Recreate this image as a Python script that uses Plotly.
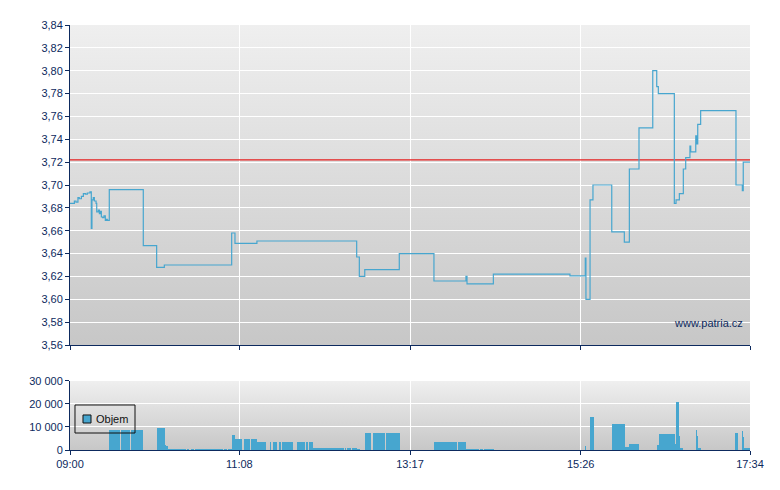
import base64
import plotly.graph_objects as go
from plotly.subplots import make_subplots

# ---- data (time = minutes after 09:00) ----
time_ticks = [0, 128, 257, 386, 514]
time_labels = ["09:00", "11:08", "13:17", "15:26", "17:34"]

price_time = [0, 3.3, 4.5, 6.0, 7.0, 8.6, 10.1, 11.6, 13.1, 15.1,
              16.1, 16.6, 17.6, 18.4, 19.7, 20.2, 21.4, 22.2, 22.9, 23.7,
              24.7, 25.7, 26.7, 27.5, 28.2, 29.7, 55.4, 65.5, 71.3, 122.2,
              124.7, 141.3, 216.7, 218.7, 222.8, 248.9, 275.1, 299.3, 300.1, 320.0,
              377.9, 389.5, 390.0, 393.1, 395.3, 409.5, 419.0, 422.8, 430.1, 440.5,
              443.5, 444.7, 456.8, 458.1, 460.6, 463.6, 465.4, 468.6, 469.2, 473.0,
              473.9, 474.5, 476.7, 503.4, 508.2, 508.9, 514]
price_value = [3.684, 3.686, 3.685, 3.689, 3.688, 3.690, 3.6925, 3.692, 3.693, 3.694,
               3.662, 3.687, 3.689, 3.686, 3.684, 3.6765, 3.678, 3.675, 3.677, 3.672,
               3.6715, 3.673, 3.669, 3.670, 3.669, 3.696, 3.647, 3.628, 3.630, 3.658,
               3.649, 3.651, 3.637, 3.620, 3.626, 3.640, 3.616, 3.620, 3.6135, 3.622,
               3.6205, 3.636, 3.600, 3.687, 3.700, 3.659, 3.650, 3.714, 3.750, 3.800,
               3.786, 3.780, 3.684, 3.687, 3.6925, 3.714, 3.724, 3.734, 3.729, 3.743,
               3.736, 3.753, 3.765, 3.700, 3.695, 3.720, 3.720]
prev_close = 3.722

vol_start = [29.5, 38.5, 46.6, 47.8, 65.8, 71.6, 72.3, 73.1, 74.1, 88.1,
             91.1, 94.5, 108.3, 116.4, 119.7, 122.5, 124.5, 131.5, 136.6, 141.1,
             151.2, 153.6, 155.6, 158.0, 160.3, 171.8, 173.3, 176.7, 178.4, 180.9,
             182.2, 183.5, 207.9, 209.4, 213.2, 216.7, 223.0, 229.0, 238.9, 275.1,
             293.5, 299.3, 309.9, 312.9, 389.3, 393.1, 409.7, 419.5, 422.5, 444.4,
             445.1, 457.2, 458.0, 460.1, 461.1, 473.2, 473.7, 474.7, 503.4, 508.0,
             508.7, 509.5]
vol_end = [37.8, 45.4, 47.1, 55.0, 71.6, 72.3, 73.1, 74.1, 87.4, 90.3,
           93.7, 107.8, 115.6, 118.9, 122.2, 124.5, 130.2, 136.1, 141.1, 148.2,
           151.9, 154.4, 156.3, 159.5, 168.8, 172.6, 175.9, 177.6, 179.4, 181.9,
           183.5, 207.1, 208.6, 212.2, 216.7, 219.2, 227.5, 238.1, 249.4, 292.8,
           299.3, 308.9, 311.9, 320.5, 389.8, 396.1, 419.5, 422.5, 430.1, 445.1,
           457.2, 458.0, 460.1, 461.1, 463.4, 473.7, 474.7, 477.0, 504.9, 508.7,
           509.5, 514.0]
vol_value = [8700, 8700, 8700, 8700, 9600, 2000, 1100, 1600, 600, 600,
             600, 600, 600, 600, 600, 6500, 4900, 4900, 4900, 3500,
             3500, 3500, 3500, 3500, 3500, 3500, 3500, 3500, 3500, 3500,
             3500, 1000, 1000, 1000, 1000, 430, 7400, 7400, 7400, 3500,
             3500, 570, 570, 570, 1700, 14300, 11300, 1400, 2600, 2200,
             7000, 2600, 20900, 6100, 870, 8700, 6100, 870, 7400, 8300,
             5700, 870]
legend_label = "Objem"
watermark = "www.patria.cz"

# ---- styling ----
NAVY = "#0d2a5e"
BLUE = "#47a6cf"
FONT = "Liberation Sans"

fig = make_subplots(rows=2, cols=1, shared_xaxes=False,
                    row_heights=[0.753, 0.1624], vertical_spacing=0.0846)

fig.add_trace(go.Scatter(x=[time_ticks[0], time_ticks[-1]], y=[prev_close, prev_close],
                         mode="lines", line=dict(color="#e41e1e", width=1.3),
                         showlegend=False, hoverinfo="skip"), row=1, col=1)
fig.add_trace(go.Scatter(x=price_time, y=price_value, mode="lines",
                         line=dict(color=BLUE, width=1.2, shape="hv"),
                         showlegend=False), row=1, col=1)

widths = [e - s for s, e in zip(vol_start, vol_end)]
fig.add_trace(go.Bar(x=vol_start, y=vol_value, width=widths, offset=0,
                     marker=dict(color=BLUE, line=dict(width=0)),
                     showlegend=False), row=2, col=1)

svg = ('<svg xmlns="http://www.w3.org/2000/svg" width="10" height="100" '
       'viewBox="0 0 10 100" preserveAspectRatio="none"><defs>'
       '<linearGradient id="g" x1="0" y1="0" x2="0" y2="1">'
       '<stop offset="0" stop-color="#efefef"/><stop offset="1" stop-color="#c7c7c7"/>'
       '</linearGradient></defs><rect width="10" height="100" fill="url(#g)"/></svg>')
uri = "data:image/svg+xml;base64," + base64.b64encode(svg.encode()).decode()

for xr, yr in (("x domain", "y domain"), ("x2 domain", "y2 domain")):
    fig.add_layout_image(dict(source=uri, xref=xr, yref=yr, x=0, y=1,
                              sizex=1, sizey=1, sizing="stretch", layer="below",
                              xanchor="left", yanchor="top"))

axis_common = dict(showline=True, linecolor=NAVY, linewidth=1, ticks="outside",
                   ticklen=4, tickcolor=NAVY, showgrid=True, gridcolor="white",
                   gridwidth=1, zeroline=False,
                   tickfont=dict(color=NAVY, size=11, family=FONT))

fig.update_xaxes(range=[time_ticks[0], time_ticks[-1]], tickvals=time_ticks,
                 ticktext=time_labels, **axis_common)
fig.update_xaxes(showticklabels=False, row=1, col=1)
fig.update_yaxes(range=[3.56, 3.84], dtick=0.02, tick0=3.56, tickformat=".2f",
                 row=1, col=1, **axis_common)
fig.update_yaxes(range=[0, 30000], dtick=10000, tickformat=",d", row=2, col=1,
                 **axis_common)

# watermark
fig.add_annotation(text=watermark, xref="paper", yref="paper",
                   x=0.9926, y=0.2988, xanchor="right", yanchor="middle",
                   showarrow=False, font=dict(color=NAVY, size=11, family=FONT))

# legend box drawn manually (compact like the original)
fig.add_shape(type="rect", xref="paper", yref="paper", x0=0.00735, x1=0.0956,
              y0=0.040, y1=0.1059, line=dict(color="#111111", width=1),
              fillcolor="rgba(0,0,0,0)")
fig.add_shape(type="rect", xref="paper", yref="paper", x0=0.0191, x1=0.0309,
              y0=0.0635, y1=0.0824, line=dict(color="#111111", width=1),
              fillcolor=BLUE)
fig.add_annotation(text=legend_label, xref="paper", yref="paper",
                   x=0.0353, y=0.0729, xanchor="left", yanchor="middle",
                   showarrow=False, font=dict(color="#111111", size=11, family=FONT))

fig.update_layout(
    width=780, height=490, autosize=False,
    margin=dict(l=62, r=38, t=17, b=48),
    paper_bgcolor="white", plot_bgcolor="rgba(0,0,0,0)",
    separators=", ",
    font=dict(family=FONT, size=11, color=NAVY),
    showlegend=False,
    bargap=0, hovermode=False,
)

fig.write_html("out.html")
